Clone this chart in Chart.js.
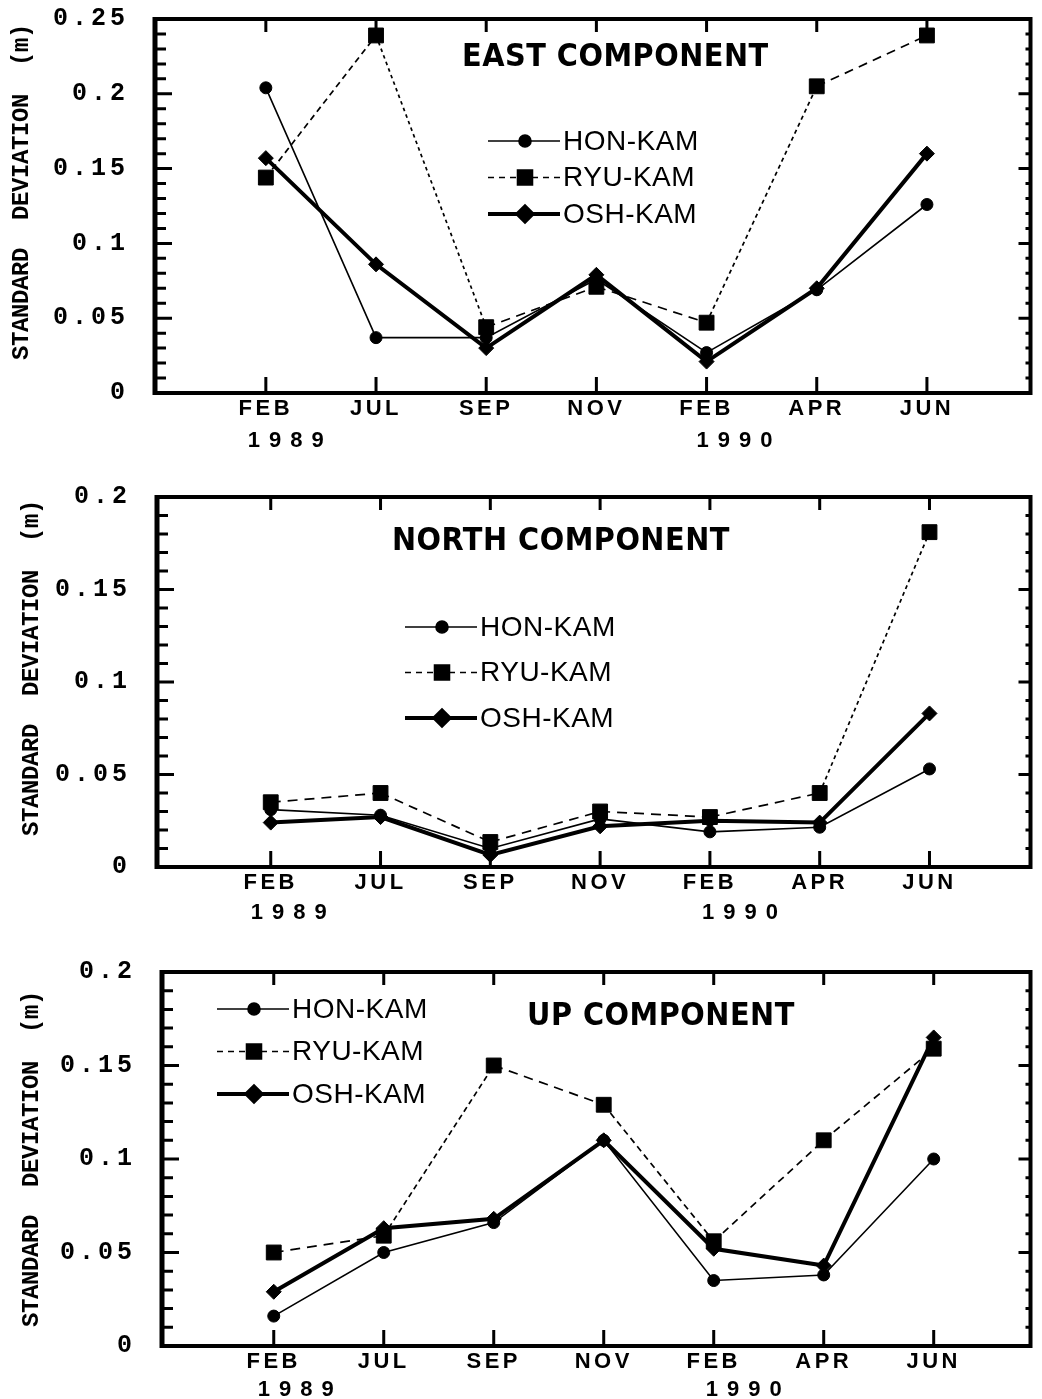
<!DOCTYPE html>
<html>
<head>
<meta charset="utf-8">
<script src="https://cdn.jsdelivr.net/npm/chart.js@4.4.0/dist/chart.umd.min.js"></script>
<style>
  html, body { margin: 0; padding: 0; background: #fff; }
  .panel { position: absolute; left: 0; width: 1042px; }
  canvas { display: block; }
</style>
</head>
<body>
<div class="panel" style="top:0"><canvas id="chEast" width="1042" height="470"></canvas></div>
<div class="panel" style="top:470px"><canvas id="chNorth" width="1042" height="470"></canvas></div>
<div class="panel" style="top:940px"><canvas id="chUp" width="1042" height="459"></canvas></div>
<script>
var months = ['FEB', 'JUL', 'SEP', 'NOV', 'FEB', 'APR', 'JUN'];
var years = ['1989', '', '', '', '1990', '', ''];
var stations = ['HON-KAM', 'RYU-KAM', 'OSH-KAM'];

// east component, standard deviation (m)
var eastHon = [0.204, 0.037, 0.037, 0.076, 0.027, 0.069, 0.126];
var eastRyu = [0.144, 0.239, 0.044, 0.071, 0.047, 0.205, 0.239];
var eastOsh = [0.157, 0.086, 0.030, 0.079, 0.021, 0.070, 0.160];

// north component
var northHon = [0.031, 0.028, 0.010, 0.026, 0.019, 0.0215, 0.053];
var northRyu = [0.035, 0.040, 0.0135, 0.030, 0.027, 0.040, 0.181];
var northOsh = [0.024, 0.027, 0.0065, 0.022, 0.025, 0.024, 0.083];

// up component
var upHon = [0.016, 0.050, 0.066, 0.110, 0.035, 0.038, 0.100];
var upRyu = [0.050, 0.059, 0.150, 0.129, 0.056, 0.110, 0.159];
var upOsh = [0.029, 0.063, 0.068, 0.110, 0.052, 0.043, 0.165];

var eastMax = 0.25, northMax = 0.2, upMax = 0.2;
var yStep = 0.05, yMinorStep = 0.01;

var monoFont = '"Liberation Mono", "DejaVu Sans Mono", monospace';
var sansFont = '"Liberation Sans", Arial, sans-serif';

// letter spacing for the tick labels / axis title (Chart.js has no option for it)
var spacing = { x: { labels: 3.5 }, y: { labels: 4, title: -0.4 } };

function wrapSpacing(scale, method, px) {
  var orig = scale[method];
  scale[method] = function () {
    var ctx = this.ctx;
    ctx.save();
    ctx.letterSpacing = px + 'px';
    orig.apply(this, arguments);
    ctx.restore();
  };
}

function points(vals) {
  return vals.map(function (v, i) { return { x: i, y: v }; });
}

function ryuDash(c) {
  var dx = c.p1.x - c.p0.x, dy = c.p1.y - c.p0.y;
  var k = Math.abs(dx) / Math.sqrt(dx * dx + dy * dy);
  return [Math.max(3, 10 * k), Math.max(3.5, 7 * k)];
}

var framePlugin = {
  id: 'frame',
  beforeDraw: function (chart) {
    Object.keys(spacing).forEach(function (id) {
      var s = chart.scales[id];
      if (!s || s._spaced) return;
      if (spacing[id].labels) wrapSpacing(s, 'drawLabels', spacing[id].labels);
      if (spacing[id].title) wrapSpacing(s, 'drawTitle', spacing[id].title);
      s._spaced = true;
    });
  },
  afterDraw: function (chart, args, o) {
    var ctx = chart.ctx, a = chart.chartArea;
    var xs = chart.scales.x, ys = chart.scales.y;
    ctx.save();
    ctx.strokeStyle = '#000';
    ctx.fillStyle = '#000';
    ctx.setLineDash([]);

    // frame
    ctx.lineWidth = 4;
    ctx.strokeRect(a.left, a.top, a.right - a.left, a.bottom - a.top);
    ctx.lineWidth = 5;
    ctx.beginPath(); ctx.moveTo(a.left, a.top - 2); ctx.lineTo(a.left, a.bottom + 2); ctx.stroke();

    // inward ticks
    ctx.lineWidth = 3;
    var n = Math.round(ys.max / yMinorStep);
    for (var k = 0; k <= n; k++) {
      var py = ys.getPixelForValue(k * yMinorStep);
      var major = k % Math.round(yStep / yMinorStep) === 0;
      ctx.beginPath();
      ctx.moveTo(a.left, py); ctx.lineTo(a.left + (major ? 17 : 11), py);
      ctx.moveTo(a.right, py); ctx.lineTo(a.right - (major ? 12 : 5), py);
      ctx.stroke();
    }
    for (var i = 0; i < months.length; i++) {
      var px = xs.getPixelForValue(i);
      ctx.beginPath();
      ctx.moveTo(px, a.top); ctx.lineTo(px, a.top + 13);
      ctx.moveTo(px, a.bottom); ctx.lineTo(px, a.bottom - 16);
      ctx.stroke();
    }

    // years under the month labels
    ctx.font = 'bold 22px ' + sansFont;
    ctx.textBaseline = 'middle';
    ctx.textAlign = 'left';
    ctx.letterSpacing = '9px';
    years.forEach(function (yr, i) {
      if (!yr) return;
      var w = ctx.measureText(yr).width - 9;
      var cx = xs.getPixelForValue(i) + o.yearDx[i];
      ctx.fillText(yr, cx - w / 2, a.bottom + o.yearDy);
    });

    // component title
    ctx.font = 'bold 32px "DejaVu Sans Condensed", "DejaVu Sans", sans-serif';
    ctx.letterSpacing = '0.5px';
    ctx.fillText(o.title, o.titleX, o.titleY);

    // legend
    ctx.font = '28px ' + sansFont;
    ctx.letterSpacing = '0.5px';
    chart.data.datasets.forEach(function (ds, j) {
      var ly = o.legendY + j * o.legendGap;
      ctx.lineWidth = ds.borderWidth;
      ctx.setLineDash(ds.legendDash || []);
      ctx.beginPath(); ctx.moveTo(o.legendX, ly); ctx.lineTo(o.legendX + 72, ly); ctx.stroke();
      ctx.setLineDash([]);
      Chart.helpers.drawPoint(ctx, { pointStyle: ds.pointStyle, radius: ds.pointRadius, borderWidth: 1, rotation: 0 }, o.legendX + 37, ly);
      ctx.fillText(ds.label, o.legendX + 75, ly + 1);
    });
    ctx.restore();
  }
};

function makePanel(id, hon, ryu, osh, yMax, p) {
  var H = p.height;
  new Chart(document.getElementById(id), {
    type: 'line',
    data: {
      datasets: [
        { label: stations[0], data: points(hon), borderColor: '#000', backgroundColor: '#000',
          borderWidth: 1.6, pointStyle: 'circle', pointRadius: 6, pointBorderWidth: 1 },
        { label: stations[1], data: points(ryu), borderColor: '#000', backgroundColor: '#000',
          borderWidth: 1.7, pointStyle: 'rect', pointRadius: 10.5, pointBorderWidth: 1,
          segment: { borderDash: ryuDash }, legendDash: [6, 5] },
        { label: stations[2], data: points(osh), borderColor: '#000', backgroundColor: '#000',
          borderWidth: 4, pointStyle: 'rectRot', pointRadius: 7.5, pointBorderWidth: 1 }
      ]
    },
    options: {
      responsive: false,
      animation: false,
      events: [],
      clip: false,
      layout: { padding: { left: 0, right: 2, top: p.top, bottom: 0 } },
      plugins: {
        legend: { display: false },
        tooltip: { enabled: false },
        frame: p
      },
      scales: {
        x: {
          type: 'linear',
          min: p.xMin, max: p.xMax,
          grid: { display: false, drawTicks: false },
          border: { display: false },
          afterBuildTicks: function (s) { s.ticks = months.map(function (m, i) { return { value: i }; }); },
          afterFit: function (s) { s.height = H - p.bottom; s.paddingLeft = 0; s.paddingRight = 0; },
          ticks: {
            autoSkip: false, maxRotation: 0, padding: 3, color: '#000',
            font: { family: sansFont, size: 22, weight: 'bold' },
            callback: function (v) { return months[v] || ''; }
          }
        },
        y: {
          min: 0, max: yMax,
          grid: { display: false, drawTicks: false },
          border: { display: false },
          afterFit: function (s) { s.width = p.left; s.paddingTop = 0; s.paddingBottom = 0; },
          ticks: {
            stepSize: yStep, padding: 26, color: '#000',
            font: { family: monoFont, size: 25, weight: 'bold' },
            callback: function (v) { return String(+v.toFixed(2)); }
          },
          title: {
            display: true, text: p.yTitle, color: '#000',
            font: { family: monoFont, size: 24, weight: 'bold' },
            padding: { top: p.yTitlePad, bottom: 0 }
          }
        }
      }
    },
    plugins: [framePlugin]
  });
}

makePanel('chEast', eastHon, eastRyu, eastOsh, eastMax, {
  height: 470, left: 155, top: 19, bottom: 393, xMin: -1.006, xMax: 6.94,
  yTitle: '  STANDARD  DEVIATION  (m)', yTitlePad: 8,
  title: 'EAST COMPONENT', titleX: 462, titleY: 58,
  legendX: 488, legendY: 141, legendGap: 36.5,
  yearDx: [20, 0, 0, 0, 28, 0, 0], yearDy: 48
});
makePanel('chNorth', northHon, northRyu, northOsh, northMax, {
  height: 470, left: 157, top: 27, bottom: 397, xMin: -1.036, xMax: 6.92,
  yTitle: '  STANDARD  DEVIATION  (m)', yTitlePad: 18,
  title: 'NORTH COMPONENT', titleX: 392, titleY: 72,
  legendX: 405, legendY: 157, legendGap: 45.5,
  yearDx: [18, 0, 0, 0, 30, 0, 0], yearDy: 46
});
makePanel('chUp', upHon, upRyu, upOsh, upMax, {
  height: 459, left: 162, top: 32, bottom: 406, xMin: -1.016, xMax: 6.88,
  yTitle: 'STANDARD  DEVIATION  (m)', yTitlePad: 18,
  title: 'UP COMPONENT', titleX: 527, titleY: 77,
  legendX: 217, legendY: 69, legendGap: 42.5,
  yearDx: [22, 0, 0, 0, 30, 0, 0], yearDy: 44
});
</script>
</body>
</html>
